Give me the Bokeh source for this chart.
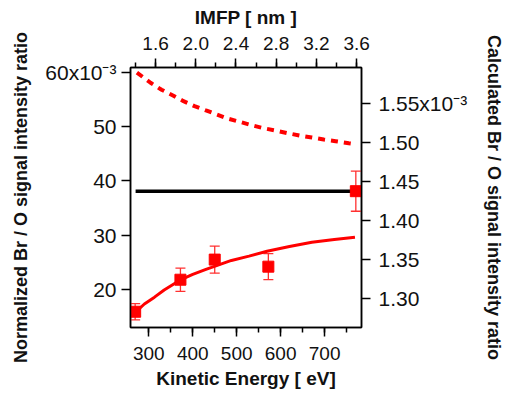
from bokeh.plotting import figure
from bokeh.models import (Range1d, LinearAxis, Whisker, ColumnDataSource,
                          CustomJSTickFormatter, SingleIntervalTicker, TeeHead)
from bokeh.embed import file_html
from bokeh.resources import INLINE

# ---- data (Br/O ratios in units of 1e-3) ----
ke_meas = [269, 372, 450, 572, 771]
ratio_meas = [15.9, 21.8, 25.5, 24.2, 38.1]
ratio_err = [1.5, 2.15, 2.5, 2.4, 3.7]

ke_ref = [270, 771]
ratio_ref = [38.1, 38.1]

ke_calc = [268, 290, 313, 335, 357, 372, 400, 430, 459, 488, 528, 569, 620, 671, 722, 769]
calc_solid = [1.2812, 1.2925, 1.3013, 1.3105, 1.3183, 1.3235, 1.3305, 1.3370, 1.3429,
              1.3485, 1.3540, 1.3604, 1.3665, 1.3720, 1.3754, 1.3784]

ke_calc2 = [273, 304, 329, 355, 379, 404, 430, 455, 481, 510, 536, 561, 591, 616, 643,
            671, 698, 725, 755, 760]
calc_dashed = [1.5900, 1.5769, 1.5679, 1.5605, 1.5532, 1.5468, 1.5413, 1.5361, 1.5306,
               1.5262, 1.5220, 1.5185, 1.5152, 1.5121, 1.5091, 1.5066, 1.5040, 1.5018,
               1.4992, 1.4988]

left_top_label = "60x10\u207b\u00b3"
right_top_label = "1.55x10\u207b\u00b3"

FONT = "Liberation Sans"
RED = "#ff0000"

p = figure(width=507, height=394, output_backend="svg", toolbar_location=None,
           x_range=Range1d(258.4, 783.9), y_range=Range1d(13.0, 60.87),
           min_border_left=130, min_border_right=137, min_border_top=67, min_border_bottom=67)
p.extra_y_ranges = {"calc": Range1d(1.2623, 1.5965)}
p.extra_x_ranges = {"imfp": Range1d(1.351, 3.648)}
p.grid.visible = False
p.outline_line_color = "black"
p.outline_line_width = 1.5
p.background_fill_color = "white"
p.border_fill_color = "white"

# axes
yl = p.yaxis[0]
xb = p.xaxis[0]
yr = LinearAxis(y_range_name="calc")
xt = LinearAxis(x_range_name="imfp")
p.add_layout(yr, "right")
p.add_layout(xt, "above")

xb.ticker = SingleIntervalTicker(interval=100, num_minor_ticks=2)
xt.ticker = SingleIntervalTicker(interval=0.4, num_minor_ticks=2)
yl.ticker = SingleIntervalTicker(interval=10, num_minor_ticks=0)
yr.ticker = SingleIntervalTicker(interval=0.05, num_minor_ticks=0)

xb.formatter = CustomJSTickFormatter(code="return tick.toFixed(0);")
xt.formatter = CustomJSTickFormatter(code="return tick.toFixed(1);")
yl.formatter = CustomJSTickFormatter(args=dict(top=left_top_label),
    code="return tick > 59.5 ? top : tick.toFixed(0);")
yr.formatter = CustomJSTickFormatter(args=dict(top=right_top_label),
    code="return Math.abs(tick - 1.55) < 1e-6 ? top : tick.toFixed(2);")

for ax in (xb, xt, yl, yr):
    ax.axis_line_color = "black"
    ax.axis_line_width = 1.5
    ax.major_tick_line_color = "black"
    ax.major_tick_line_width = 1.5
    ax.minor_tick_line_color = "black"
    ax.minor_tick_line_width = 1.5
    ax.major_tick_in = 0
    ax.major_tick_out = 9
    ax.minor_tick_in = 0
    ax.minor_tick_out = 5
    ax.major_label_text_font = FONT
    ax.major_label_text_color = "#111111"
    ax.axis_label_text_font = FONT
    ax.axis_label_text_font_style = "bold"
    ax.axis_label_text_color = "#111111"

for ax in (xb, xt):
    ax.major_label_text_font_size = "19px"
    ax.axis_label_text_font_size = "19px"
for ax in (yl, yr):
    ax.major_label_text_font_size = "21px"
    ax.axis_label_text_font_size = "18px"
    ax.minor_tick_line_color = None

xb.axis_label = "Kinetic Energy [ eV]"
xt.axis_label = "IMFP [ nm ]"
yl.axis_label = "Normalized Br / O signal intensity ratio"
yr.axis_label = "Calculated Br / O signal intensity ratio"

xb.major_label_standoff = 10
xt.major_label_standoff = 9
yl.major_label_standoff = 5
yr.major_label_standoff = 8
xb.axis_label_standoff = 5
xt.axis_label_standoff = 6
yl.axis_label_standoff = 11
yr.axis_label_standoff = 14

# curves
p.line(ke_ref, ratio_ref, line_color="black", line_width=3.5)
p.line(ke_calc, calc_solid, y_range_name="calc", line_color=RED, line_width=3)
p.line(ke_calc2, calc_dashed, y_range_name="calc", line_color=RED, line_width=4,
       line_dash="7 6")

src = ColumnDataSource(dict(
    x=ke_meas, y=ratio_meas,
    upper=[v + e for v, e in zip(ratio_meas, ratio_err)],
    lower=[v - e for v, e in zip(ratio_meas, ratio_err)],
))
ERR = "#ff3030"
w = Whisker(source=src, base="x", upper="upper", lower="lower", dimension="height",
            line_color=ERR, line_width=1.3,
            upper_head=TeeHead(size=10, line_color=ERR, line_width=1.3),
            lower_head=TeeHead(size=10, line_color=ERR, line_width=1.3))
p.add_layout(w)
p.scatter("x", "y", source=src, marker="square", size=11, fill_color=RED, line_color=RED)

open("out.html", "w").write(file_html(p, INLINE))
